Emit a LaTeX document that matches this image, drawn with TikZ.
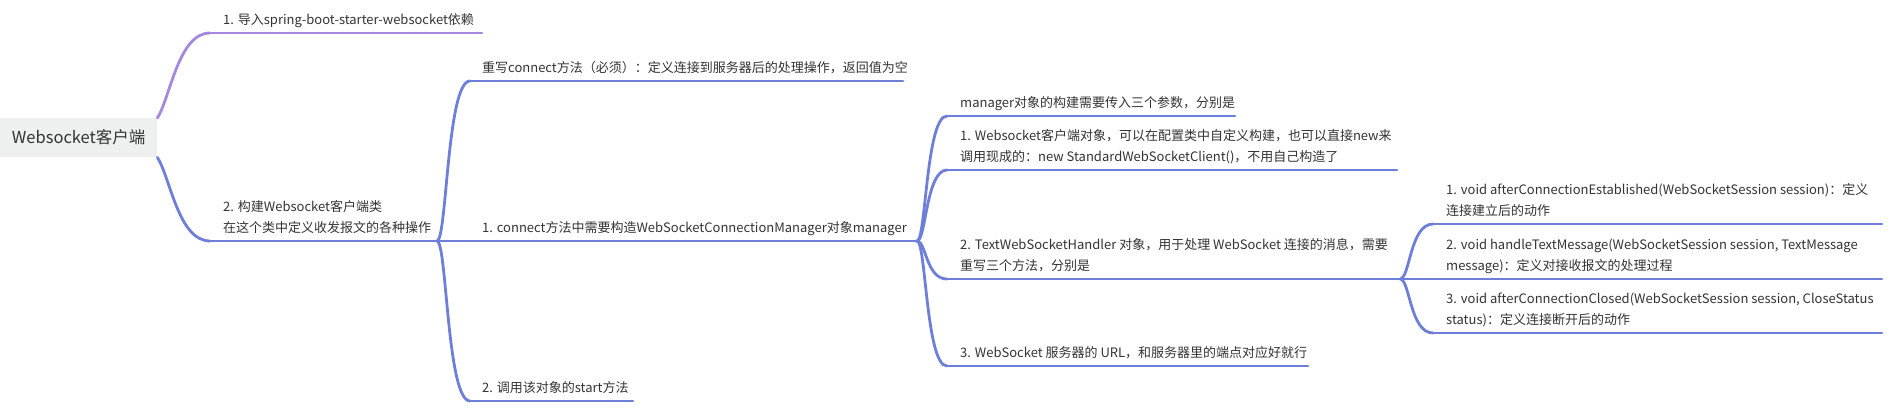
\documentclass[tikz,border=0pt]{standalone}
\usepackage{fontspec}
\setmainfont{Noto Sans CJK SC}
\usetikzlibrary{calc}
\definecolor{purp}{HTML}{A687DF}
\definecolor{blu}{HTML}{6E7FDB}
\definecolor{txt}{HTML}{333333}
\definecolor{rootbg}{HTML}{EEF0F0}
\tikzset{
  topic/.style={anchor=south west, inner xsep=0pt, inner ysep=8pt, text depth=0pt,
    align=left, font=\fontsize{13}{21.5}\selectfont, text=txt},
  bl/.style={draw=blu, line width=2.8pt, line cap=round},
  pl/.style={draw=purp, line width=2.8pt, line cap=round},
  sbranch/.style={to path={.. controls ($(\tikztostart)!0.3!(\tikztostart-|\tikztotarget)$) and ($(\tikztotarget)!0.7!(\tikztotarget-|\tikztostart)$) .. (\tikztotarget)}},
  rbranch/.style={to path={.. controls ($(\tikztostart)!0.25!(\tikztotarget)$) and ($(\tikztotarget)!0.6!(\tikztotarget-|\tikztostart)$) .. (\tikztotarget)}}
}
\begin{document}
\begin{tikzpicture}[x=1pt,y=-1pt]
\useasboundingbox (0,0) rectangle (1892,412);
% root
\node[fill=rootbg, minimum width=157pt, minimum height=39pt, inner sep=0pt, anchor=north west,
  font=\fontsize{16.5}{20}\selectfont, text=txt] (root) at (0,118) {Websocket客户端};
% level 1
\coordinate (b1L) at (210,33); \coordinate (b1R) at (482,33);
\node[topic] (b1) at (223,33) {1. 导入spring-boot-starter-websocket依赖};
\coordinate (b2L) at (210,241); \coordinate (b2R) at (437,241);
\node[topic] (b2) at (223,241) {2. 构建Websocket客户端类\\在这个类中定义收发报文的各种操作};
% level 2
\coordinate (c1L) at (470,81); \coordinate (c1R) at (903,81);
\node[topic] (c1) at (482,81) {重写connect方法（必须）：定义连接到服务器后的处理操作，返回值为空};
\coordinate (c2L) at (470,241); \coordinate (c2R) at (917,241);
\node[topic] (c2) at (482,241) {1. connect方法中需要构造WebSocketConnectionManager对象manager};
\coordinate (c3L) at (470,401); \coordinate (c3R) at (633,401);
\node[topic] (c3) at (482,401) {2. 调用该对象的start方法};
% level 3
\coordinate (d0L) at (947,116); \coordinate (d0R) at (1235,116);
\node[topic] (d0) at (960,116) {manager对象的构建需要传入三个参数，分别是};
\coordinate (d1L) at (947,170); \coordinate (d1R) at (1397,170);
\node[topic] (d1) at (960,170) {1. Websocket客户端对象，可以在配置类中自定义构建，也可以直接new来\\调用现成的：new StandardWebSocketClient()，不用自己构造了};
\coordinate (d2L) at (947,279); \coordinate (d2R) at (1400,279);
\node[topic] (d2) at (960,279) {2. TextWebSocketHandler 对象，用于处理 WebSocket 连接的消息，需要\\重写三个方法，分别是};
\coordinate (d3L) at (947,366); \coordinate (d3R) at (1308,366);
\node[topic] (d3) at (960,366) {3. WebSocket 服务器的 URL，和服务器里的端点对应好就行};
% level 4
\coordinate (e1L) at (1433,224); \coordinate (e1R) at (1882,224);
\node[topic] (e1) at (1446,224) {1. void afterConnectionEstablished(WebSocketSession session)：定义\\连接建立后的动作};
\coordinate (e2L) at (1433,279); \coordinate (e2R) at (1882,279);
\node[topic] (e2) at (1446,279) {2. void handleTextMessage(WebSocketSession session, TextMessage\\message)：定义对接收报文的处理过程};
\coordinate (e3L) at (1433,333); \coordinate (e3R) at (1882,333);
\node[topic] (e3) at (1446,333) {3. void afterConnectionClosed(WebSocketSession session, CloseStatus\\status)：定义连接断开后的动作};
% underlines
\draw[pl] (b1L) -- (b1R);
\foreach \n in {b2,c1,c2,c3,d0,d1,d2,d3,e1,e2,e3} \draw[bl] (\n L) -- (\n R);
% connectors
\draw[pl] (root.north east) to[rbranch] (b1L);
\draw[bl] (root.south east) to[rbranch] (b2L);
\draw[bl] (b2R) to[sbranch] (c1L);
\draw[bl] (b2R) -- (c2L);
\draw[bl] (b2R) to[sbranch] (c3L);
\draw[bl] (c2R) to[sbranch] (d0L);
\draw[bl] (c2R) to[sbranch] (d1L);
\draw[bl] (c2R) to[sbranch] (d2L);
\draw[bl] (c2R) to[sbranch] (d3L);
\draw[bl] (d2R) to[sbranch] (e1L);
\draw[bl] (d2R) -- (e2L);
\draw[bl] (d2R) to[sbranch] (e3L);
\end{tikzpicture}
\end{document}
